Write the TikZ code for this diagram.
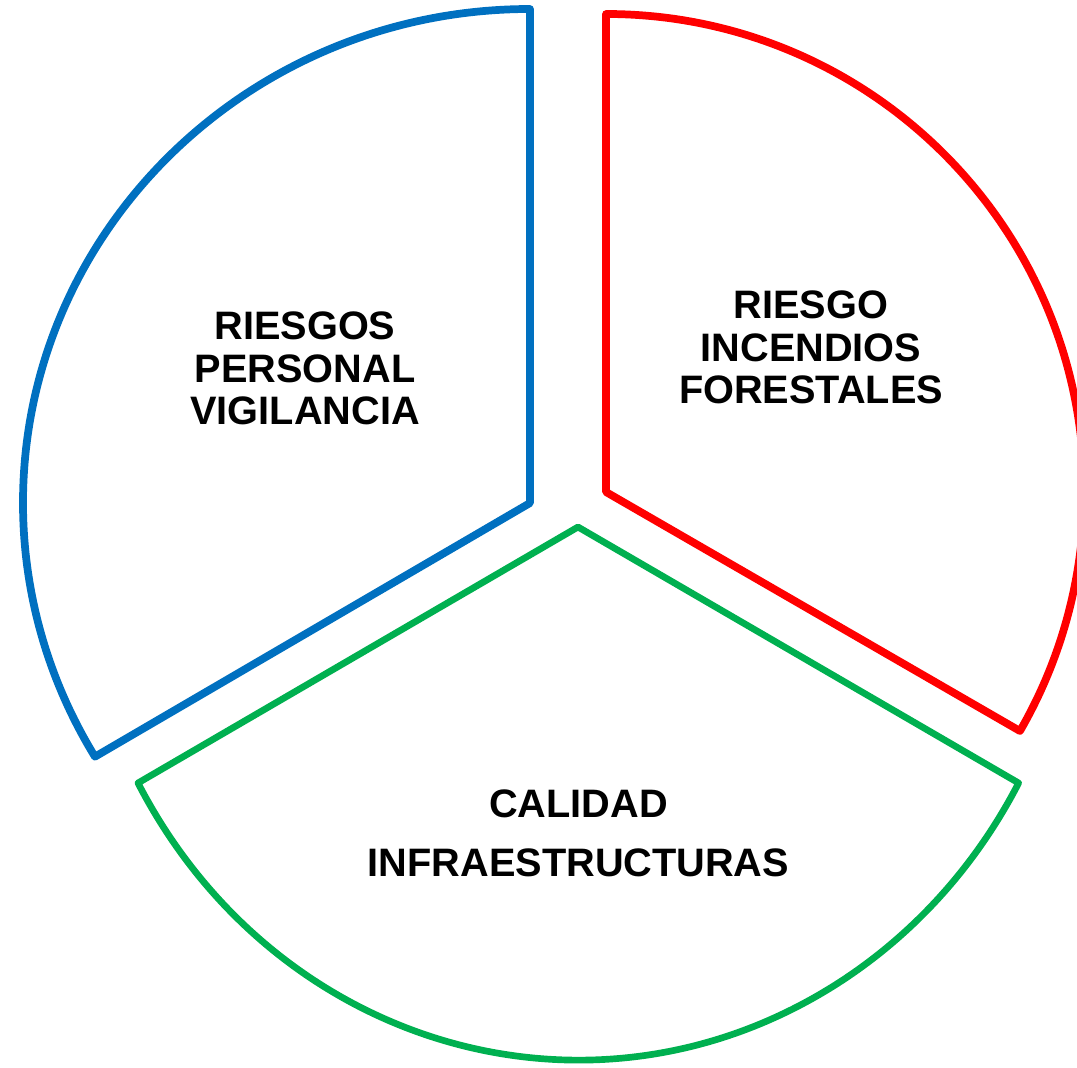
\documentclass[tikz,border=0pt]{standalone}
\usepackage{fontspec}
\setmainfont{Liberation Sans}
\definecolor{sliceblue}{HTML}{0070C0}
\definecolor{slicered}{HTML}{FF0000}
\definecolor{slicegreen}{HTML}{00B050}
\tikzset{
  sector/.style={line width=4.4pt, line join=round, fill=white},
  sectortext/.style={align=center, font=\fontsize{22.6}{24.3}\selectfont\bfseries}
}

\begin{document}
\begin{tikzpicture}[x=0.02cm, y=-0.02cm]
\clip (0,0) rectangle (1077,1067);

% Blue sector
\draw[sector, draw=sliceblue] (530,503) -- (530,9)
  arc[start angle=-90, end angle=-210.9, x radius=507, y radius=494] -- cycle;

% Red sector
\draw[sector, draw=slicered] (606,492) -- (606,14)
  arc[start angle=-90, end angle=30, radius=478] -- cycle;

% Green sector
\draw[sector, draw=slicegreen, line width=3.8pt] (578,527) -- (138,783)
  arc[start angle=151.3, end angle=28.7, x radius=502, y radius=533] -- cycle;

% Labels
\node[sectortext] (personal) at (305,368.5) {RIESGOS\\PERSONAL\\VIGILANCIA};
\node[sectortext] (incendios) at (811,347.5) {RIESGO\\INCENDIOS\\FORESTALES};
\node[sectortext] (calidad) at (578.5,833.5) {CALIDAD\\[9.2pt]INFRAESTRUCTURAS};
\end{tikzpicture}
\end{document}
